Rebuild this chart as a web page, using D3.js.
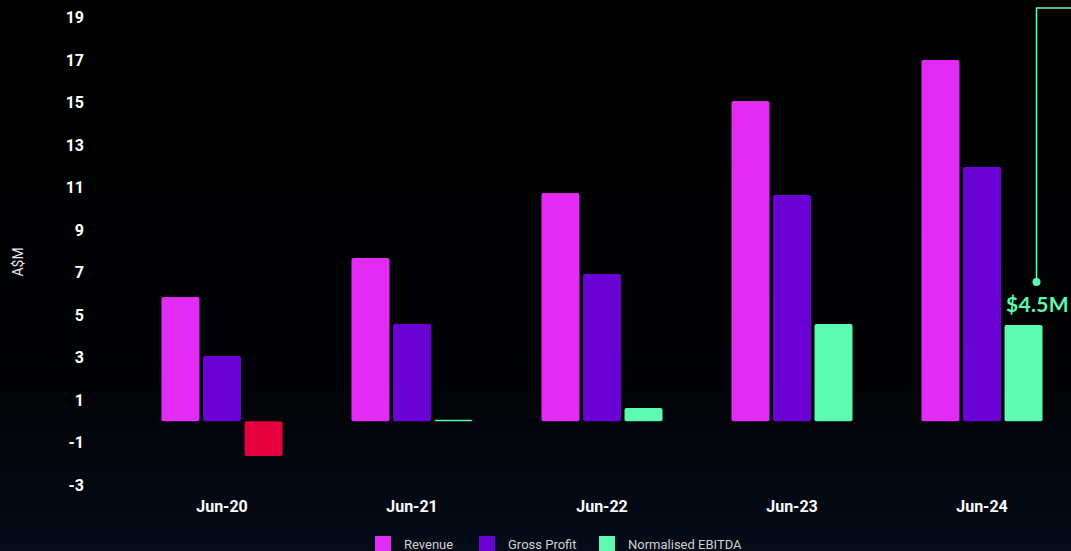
<!DOCTYPE html>
<html>
<head>
<meta charset="utf-8">
<script src="https://cdn.jsdelivr.net/npm/d3@7"></script>
<style>
  html, body { margin: 0; padding: 0; background: #000; }
  svg { display: block; font-family: Roboto, "Noto Sans", sans-serif; }
</style>
</head>
<body>
<div id="chart"></div>
<script>
const periods = ["Jun-20", "Jun-21", "Jun-22", "Jun-23", "Jun-24"];
const seriesNames = ["Revenue", "Gross Profit", "Normalised EBITDA"];
const revenue = [5.85, 7.68, 10.74, 15.07, 17.0];
const grossProfit = [3.07, 4.58, 6.93, 10.65, 11.96];
const ebitda = [-1.64, 0.07, 0.62, 4.58, 4.53];
const yTicks = [-3, -1, 1, 3, 5, 7, 9, 11, 13, 15, 17, 19];
const annotationText = "$4.5M";

const colors = ["#e22cf6", "#6a02d3", "#5cfbb1"];
const negColor = "#e4003f";

const width = 1071, height = 551;

const svg = d3.select("#chart").append("svg")
    .attr("width", width)
    .attr("height", height);

// background gradient
const defs = svg.append("defs");
const grad = defs.append("linearGradient").attr("id", "bg")
    .attr("x1", 0).attr("y1", 0).attr("x2", 0).attr("y2", 1);
grad.append("stop").attr("offset", "0%").attr("stop-color", "#000000");
grad.append("stop").attr("offset", "70%").attr("stop-color", "#020306");
grad.append("stop").attr("offset", "100%").attr("stop-color", "#050b18");
svg.append("rect").attr("width", width).attr("height", height).attr("fill", "url(#bg)");

const y = d3.scaleLinear().domain([-3, 19]).range([485, 17.5]);

const x0 = d3.scaleBand().domain(periods).range([127, 1077]).padding(0);
const x1 = d3.scaleBand().domain(seriesNames).range([0, x0.bandwidth()])
    .paddingInner(0.085).paddingOuter(0.83);

const data = periods.map((p, i) => ({
    period: p,
    values: [revenue[i], grossProfit[i], ebitda[i]]
}));

// y axis labels
svg.append("g")
    .selectAll("text")
    .data(yTicks)
    .join("text")
    .attr("x", 84)
    .attr("y", d => y(d))
    .attr("dy", "0.35em")
    .attr("text-anchor", "end")
    .attr("fill", "#ffffff")
    .attr("font-size", "16px")
    .attr("font-weight", "bold")
    .text(d => d);

svg.append("text")
    .attr("transform", `translate(23,262) rotate(-90)`)
    .attr("text-anchor", "middle")
    .attr("fill", "#e6e6e6")
    .attr("font-size", "14px")
    .text("A$M");

// bars
const groups = svg.append("g").selectAll("g")
    .data(data)
    .join("g")
    .attr("transform", d => `translate(${x0(d.period)},0)`);

groups.selectAll("rect")
    .data(d => d.values.map((v, i) => ({name: seriesNames[i], value: v, idx: i})))
    .join("rect")
    .attr("x", d => x1(d.name))
    .attr("y", d => y(Math.max(0, d.value)))
    .attr("width", x1.bandwidth())
    .attr("height", d => Math.max(1.5, Math.abs(y(d.value) - y(0))))
    .attr("rx", 2)
    .attr("fill", d => d.value < 0 ? negColor : colors[d.idx]);

// x labels
svg.append("g").selectAll("text")
    .data(periods)
    .join("text")
    .attr("x", d => x0(d) + x0.bandwidth() / 2)
    .attr("y", 512)
    .attr("text-anchor", "middle")
    .attr("fill", "#ffffff")
    .attr("font-size", "16px")
    .attr("font-weight", "bold")
    .text(d => d);

// annotation on last EBITDA bar
const last = periods[periods.length - 1];
const ax = x0(last) + x1("Normalised EBITDA") + x1.bandwidth() - 6;
const ay = y(ebitda[ebitda.length - 1]) - 43;
svg.append("path")
    .attr("d", `M${ax},${ay} V8 H${width + 5}`)
    .attr("fill", "none")
    .attr("stroke", colors[2])
    .attr("stroke-width", 1.6);
svg.append("circle")
    .attr("cx", ax).attr("cy", ay).attr("r", 4)
    .attr("fill", colors[2]);
svg.append("text")
    .attr("x", ax + 1)
    .attr("y", ay + 30)
    .attr("text-anchor", "middle")
    .attr("fill", colors[2])
    .attr("font-family", "Lato, sans-serif")
    .attr("font-weight", "bold")
    .attr("font-size", "21px")
    .attr("letter-spacing", "0.3px")
    .text(annotationText);

// legend
const legendX = [375, 479, 599];
const legend = svg.append("g").selectAll("g")
    .data(seriesNames)
    .join("g")
    .attr("transform", (d, i) => `translate(${legendX[i]},536)`);
legend.append("rect")
    .attr("width", 16).attr("height", 16)
    .attr("fill", (d, i) => colors[i]);
legend.append("text")
    .attr("x", 29).attr("y", 13)
    .attr("fill", "#d0d0d0")
    .attr("font-size", "13px")
    .text(d => d);
</script>
</body>
</html>
